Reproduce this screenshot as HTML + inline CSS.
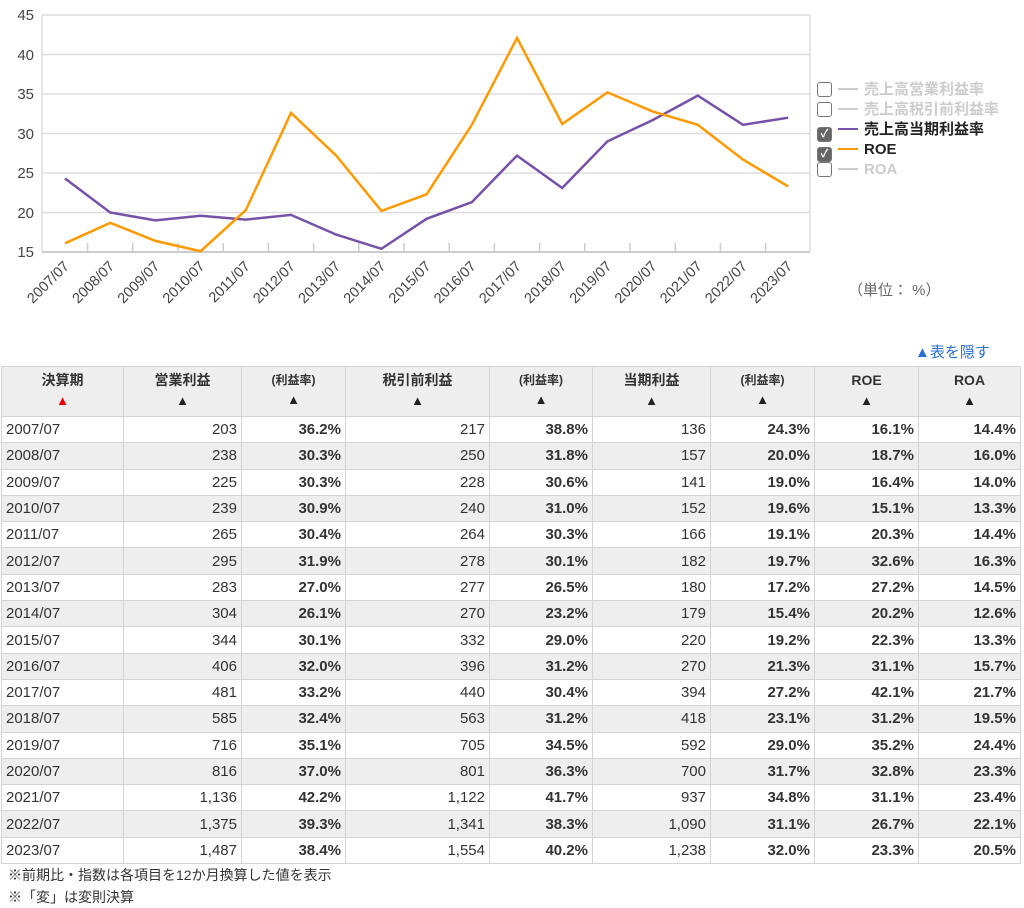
<!DOCTYPE html>
<html><head><meta charset="utf-8"><style>
body{margin:0;width:1024px;height:907px;background:#fff;font-family:"Liberation Sans","Noto Sans CJK JP",sans-serif;color:#333;position:relative;overflow:hidden}
svg{position:absolute;left:0;top:0}
.lg{position:absolute;left:817px;font-size:15px;font-weight:bold;color:#ccc;white-space:nowrap;height:20px;line-height:20px}
.cb{display:inline-block;width:13px;height:13px;border:1.5px solid #777;border-radius:3px;vertical-align:-3px;background:#fff;color:#fff;font-size:11px;line-height:13px;text-align:center}
.cb.on{background:#666}
.ln{display:inline-block;width:20px;height:2px;background:#ccc;vertical-align:4px;margin:0 6px 0 6px}
table{position:absolute;left:1px;top:366px;border-collapse:collapse;font-size:15px;width:1019px;table-layout:fixed}
td,th{border:1px solid #d4d4d4;padding:0 4px;height:25.3px;text-align:right;overflow:hidden;white-space:nowrap}
th{background:#eee;font-weight:bold;text-align:center;height:46px;font-size:14px;vertical-align:top;padding-top:3px;line-height:20px}
th.s{font-size:12px}
td:first-child{text-align:left}
td.b{font-weight:bold}
td.v{border-right:1px dashed #ccc}
tr:nth-child(odd) td{background:#eee}
.tri{font-size:13px;color:#222}
</style></head><body>
<svg width="1024" height="340">
<g stroke="#ddd" stroke-width="1.5">
<line x1="42" y1="15" x2="810" y2="15"/><line x1="42" y1="54.5" x2="810" y2="54.5"/><line x1="42" y1="94" x2="810" y2="94"/><line x1="42" y1="133.5" x2="810" y2="133.5"/><line x1="42" y1="173" x2="810" y2="173"/><line x1="42" y1="212.5" x2="810" y2="212.5"/>
<line x1="42" y1="15" x2="42" y2="252"/><line x1="810" y1="15" x2="810" y2="252"/>
</g>
<line x1="42" y1="252" x2="810" y2="252" stroke="#ccc" stroke-width="2"/>
<g stroke="#ccc" stroke-width="1.5">
<line x1="87.6" y1="243" x2="87.6" y2="252"/><line x1="132.8" y1="243" x2="132.8" y2="252"/><line x1="178" y1="243" x2="178" y2="252"/><line x1="223.2" y1="243" x2="223.2" y2="252"/><line x1="268.4" y1="243" x2="268.4" y2="252"/><line x1="313.6" y1="243" x2="313.6" y2="252"/><line x1="358.8" y1="243" x2="358.8" y2="252"/><line x1="404" y1="243" x2="404" y2="252"/><line x1="449.2" y1="243" x2="449.2" y2="252"/><line x1="494.4" y1="243" x2="494.4" y2="252"/><line x1="539.6" y1="243" x2="539.6" y2="252"/><line x1="584.8" y1="243" x2="584.8" y2="252"/><line x1="630" y1="243" x2="630" y2="252"/><line x1="675.2" y1="243" x2="675.2" y2="252"/><line x1="720.4" y1="243" x2="720.4" y2="252"/><line x1="765.6" y1="243" x2="765.6" y2="252"/>
</g>
<g font-size="15" fill="#444" text-anchor="end" font-family="Liberation Sans,sans-serif">
<text x="34" y="20">45</text><text x="34" y="60">40</text><text x="34" y="99">35</text><text x="34" y="139">30</text><text x="34" y="178">25</text><text x="34" y="218">20</text><text x="34" y="257">15</text>
</g>
<g font-size="14.5" fill="#444" text-anchor="end" font-family="Liberation Sans,sans-serif">
<text transform="translate(70,267) rotate(-45)">2007/07</text><text transform="translate(115.2,267) rotate(-45)">2008/07</text><text transform="translate(160.4,267) rotate(-45)">2009/07</text><text transform="translate(205.6,267) rotate(-45)">2010/07</text><text transform="translate(250.8,267) rotate(-45)">2011/07</text><text transform="translate(296,267) rotate(-45)">2012/07</text><text transform="translate(341.2,267) rotate(-45)">2013/07</text><text transform="translate(386.4,267) rotate(-45)">2014/07</text><text transform="translate(431.6,267) rotate(-45)">2015/07</text><text transform="translate(476.8,267) rotate(-45)">2016/07</text><text transform="translate(522,267) rotate(-45)">2017/07</text><text transform="translate(567.2,267) rotate(-45)">2018/07</text><text transform="translate(612.4,267) rotate(-45)">2019/07</text><text transform="translate(657.6,267) rotate(-45)">2020/07</text><text transform="translate(702.8,267) rotate(-45)">2021/07</text><text transform="translate(748,267) rotate(-45)">2022/07</text><text transform="translate(793.2,267) rotate(-45)">2023/07</text>
</g>
<polyline fill="none" stroke="#7552a8" stroke-width="2.5" points="65,178.5 110.2,212.5 155.4,220.4 200.6,215.7 245.8,219.6 291,214.9 336.2,234.6 381.4,248.8 426.6,218.8 471.8,202.2 517,155.6 562.2,188 607.4,141.4 652.6,120.1 697.8,95.6 743,124.8 788.2,117.7"/>
<polyline fill="none" stroke="#ff9900" stroke-width="2.5" points="65,243.3 110.2,222.8 155.4,240.9 200.6,251.2 245.8,210.1 291,112.9 336.2,155.6 381.4,210.9 426.6,194.3 471.8,124.8 517,37.9 562.2,124 607.4,92.4 652.6,111.4 697.8,124.8 743,159.6 788.2,186.4"/>
<text x="848" y="295" font-size="15" fill="#666">（単位： %）</text>
</svg>
<div class="lg" style="top:80px"><span class="cb"></span><span class="ln"></span>売上高営業利益率</div>
<div class="lg" style="top:100px"><span class="cb"></span><span class="ln"></span>売上高税引前利益率</div>
<div class="lg" style="top:120px;color:#222"><span class="cb on">✓</span><span class="ln" style="background:#7552a8"></span>売上高当期利益率</div>
<div class="lg" style="top:140px;color:#222"><span class="cb on">✓</span><span class="ln" style="background:#ff9900"></span>ROE</div>
<div class="lg" style="top:160px"><span class="cb"></span><span class="ln"></span>ROA</div>
<div style="position:absolute;left:915px;top:341px;font-size:15px;color:#2a6fd6">▲表を隠す</div>
<table>
<colgroup><col style="width:122px"><col style="width:118px"><col style="width:104px"><col style="width:144px"><col style="width:103px"><col style="width:118px"><col style="width:104px"><col style="width:104px"><col style="width:102px"></colgroup>
<tr><th>決算期<br><span class="tri" style="color:#e00">▲</span></th><th>営業利益<br><span class="tri">▲</span></th><th class="s">(利益率)<br><span class="tri">▲</span></th><th>税引前利益<br><span class="tri">▲</span></th><th class="s">(利益率)<br><span class="tri">▲</span></th><th>当期利益<br><span class="tri">▲</span></th><th class="s">(利益率)<br><span class="tri">▲</span></th><th>ROE<br><span class="tri">▲</span></th><th>ROA<br><span class="tri">▲</span></th></tr>
<tr><td>2007/07</td><td class="v">203</td><td class="b">36.2%</td><td class="v">217</td><td class="b">38.8%</td><td class="v">136</td><td class="b">24.3%</td><td class="b">16.1%</td><td class="b">14.4%</td></tr>
<tr><td>2008/07</td><td class="v">238</td><td class="b">30.3%</td><td class="v">250</td><td class="b">31.8%</td><td class="v">157</td><td class="b">20.0%</td><td class="b">18.7%</td><td class="b">16.0%</td></tr>
<tr><td>2009/07</td><td class="v">225</td><td class="b">30.3%</td><td class="v">228</td><td class="b">30.6%</td><td class="v">141</td><td class="b">19.0%</td><td class="b">16.4%</td><td class="b">14.0%</td></tr>
<tr><td>2010/07</td><td class="v">239</td><td class="b">30.9%</td><td class="v">240</td><td class="b">31.0%</td><td class="v">152</td><td class="b">19.6%</td><td class="b">15.1%</td><td class="b">13.3%</td></tr>
<tr><td>2011/07</td><td class="v">265</td><td class="b">30.4%</td><td class="v">264</td><td class="b">30.3%</td><td class="v">166</td><td class="b">19.1%</td><td class="b">20.3%</td><td class="b">14.4%</td></tr>
<tr><td>2012/07</td><td class="v">295</td><td class="b">31.9%</td><td class="v">278</td><td class="b">30.1%</td><td class="v">182</td><td class="b">19.7%</td><td class="b">32.6%</td><td class="b">16.3%</td></tr>
<tr><td>2013/07</td><td class="v">283</td><td class="b">27.0%</td><td class="v">277</td><td class="b">26.5%</td><td class="v">180</td><td class="b">17.2%</td><td class="b">27.2%</td><td class="b">14.5%</td></tr>
<tr><td>2014/07</td><td class="v">304</td><td class="b">26.1%</td><td class="v">270</td><td class="b">23.2%</td><td class="v">179</td><td class="b">15.4%</td><td class="b">20.2%</td><td class="b">12.6%</td></tr>
<tr><td>2015/07</td><td class="v">344</td><td class="b">30.1%</td><td class="v">332</td><td class="b">29.0%</td><td class="v">220</td><td class="b">19.2%</td><td class="b">22.3%</td><td class="b">13.3%</td></tr>
<tr><td>2016/07</td><td class="v">406</td><td class="b">32.0%</td><td class="v">396</td><td class="b">31.2%</td><td class="v">270</td><td class="b">21.3%</td><td class="b">31.1%</td><td class="b">15.7%</td></tr>
<tr><td>2017/07</td><td class="v">481</td><td class="b">33.2%</td><td class="v">440</td><td class="b">30.4%</td><td class="v">394</td><td class="b">27.2%</td><td class="b">42.1%</td><td class="b">21.7%</td></tr>
<tr><td>2018/07</td><td class="v">585</td><td class="b">32.4%</td><td class="v">563</td><td class="b">31.2%</td><td class="v">418</td><td class="b">23.1%</td><td class="b">31.2%</td><td class="b">19.5%</td></tr>
<tr><td>2019/07</td><td class="v">716</td><td class="b">35.1%</td><td class="v">705</td><td class="b">34.5%</td><td class="v">592</td><td class="b">29.0%</td><td class="b">35.2%</td><td class="b">24.4%</td></tr>
<tr><td>2020/07</td><td class="v">816</td><td class="b">37.0%</td><td class="v">801</td><td class="b">36.3%</td><td class="v">700</td><td class="b">31.7%</td><td class="b">32.8%</td><td class="b">23.3%</td></tr>
<tr><td>2021/07</td><td class="v">1,136</td><td class="b">42.2%</td><td class="v">1,122</td><td class="b">41.7%</td><td class="v">937</td><td class="b">34.8%</td><td class="b">31.1%</td><td class="b">23.4%</td></tr>
<tr><td>2022/07</td><td class="v">1,375</td><td class="b">39.3%</td><td class="v">1,341</td><td class="b">38.3%</td><td class="v">1,090</td><td class="b">31.1%</td><td class="b">26.7%</td><td class="b">22.1%</td></tr>
<tr><td>2023/07</td><td class="v">1,487</td><td class="b">38.4%</td><td class="v">1,554</td><td class="b">40.2%</td><td class="v">1,238</td><td class="b">32.0%</td><td class="b">23.3%</td><td class="b">20.5%</td></tr>
</table>
<div style="position:absolute;left:8px;top:864px;font-size:14px;line-height:22px;color:#333">※前期比・指数は各項目を12か月換算した値を表示<br>※「変」は変則決算</div>
</body></html>
